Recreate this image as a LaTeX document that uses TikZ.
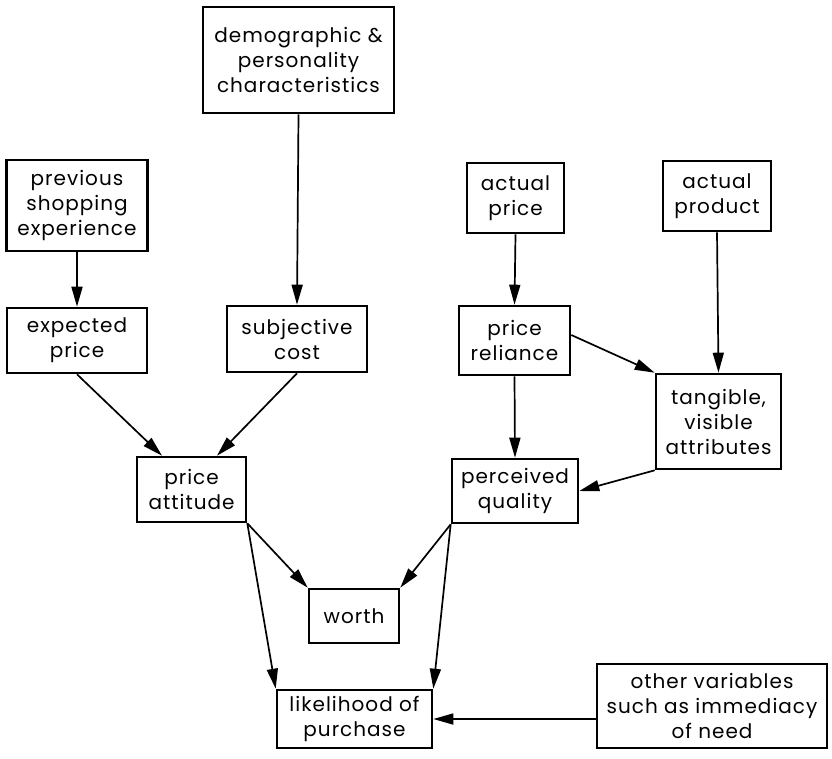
\documentclass[tikz,border=0pt]{standalone}
\usepackage{fontspec}
\setmainfont[LetterSpace=5]{Poppins}
\usetikzlibrary{arrows.meta}
\begin{document}
\begin{tikzpicture}[x=1pt,y=-1pt,
  box/.style={draw,line width=2.6pt,rectangle,inner sep=0pt,align=center,
    font=\fontsize{20}{25}\selectfont},
  arr/.style={line width=1.7pt,-{Triangle[length=20pt,width=11pt]}}]
\useasboundingbox (0,0) rectangle (832,758);
\node[box,minimum width=191pt,minimum height=106pt] (demo) at (298.5,60) {demographic \&\\personality\\characteristics};
\node[box,minimum width=141pt,minimum height=91pt] (prev) at (77,205.5) {previous\\shopping\\experience};
\node[box,minimum width=140pt,minimum height=65pt] (exp) at (77,340.5) {expected\\price};
\node[box,minimum width=140pt,minimum height=66pt] (subj) at (297,339) {subjective\\cost};
\node[box,minimum width=97pt,minimum height=70pt] (aprice) at (515.5,198) {actual\\price};
\node[box,minimum width=108pt,minimum height=70pt] (aprod) at (717,196) {actual\\product};
\node[box,minimum width=111pt,minimum height=69pt] (rel) at (514.5,340.5) {price\\reliance};
\node[box,minimum width=125pt,minimum height=95pt] (tang) at (718.5,421.5) {tangible,\\visible\\attributes};
\node[box,minimum width=126pt,minimum height=64pt] (perc) at (515,491) {perceived\\quality};
\node[box,minimum width=109pt,minimum height=65pt] (att) at (191.5,489.5) {price\\attitude};
\node[box,minimum width=90pt,minimum height=54pt] (worth) at (354,616) {worth};
\node[box,minimum width=155pt,minimum height=58pt] (like) at (354.5,719) {likelihood of\\purchase};
\node[box,minimum width=230pt,minimum height=84pt] (other) at (712,706) {other variables\\such as immediacy\\of need};
\coordinate (a2) at (162,457);
\coordinate (b2) at (217,457);
\coordinate (p1) at (570,335);
\draw[arr] (prev.south) -- (exp.north);
\draw[arr] (demo.south) -- (subj.north);
\draw[arr] (exp.south) -- (att.north -| a2);
\draw[arr] (subj.south) -- (att.north -| b2);
\draw[arr] (aprice.south) -- (rel.north);
\draw[arr] (aprod.south) -- (tang.north);
\draw[arr] (rel.east |- p1) -- (tang.north west);
\draw[arr] (rel.south) -- (perc.north);
\draw[arr] (tang.south west) -- (perc.east);
\draw[arr] (att.south east) -- (worth.north west);
\draw[arr] (perc.south west) -- (worth.north east);
\draw[arr] (att.south east) -- (like.north west);
\draw[arr] (perc.south west) -- (like.north east);
\draw[arr] (other.west |- like.east) -- (like.east);
\end{tikzpicture}
\end{document}
